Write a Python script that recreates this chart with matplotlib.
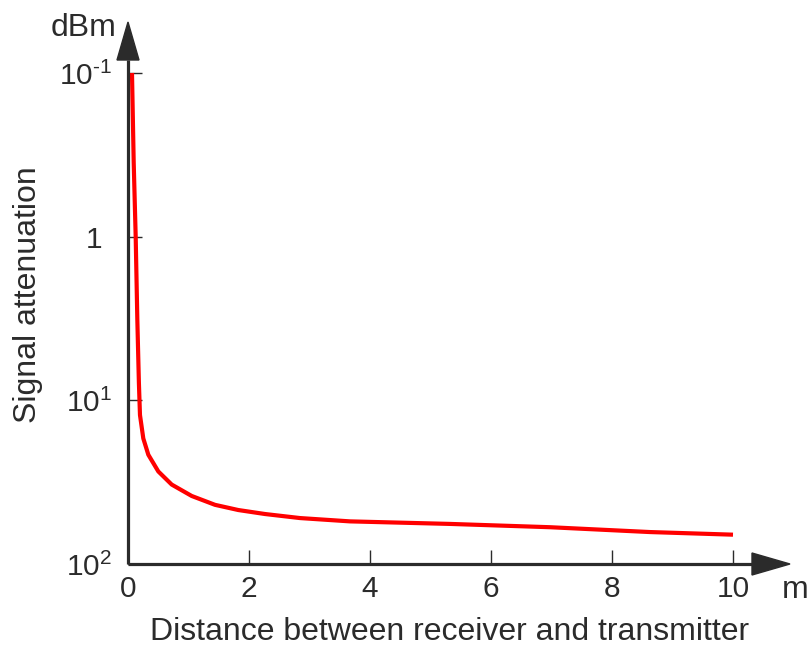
import matplotlib
matplotlib.use("Agg")
import matplotlib.pyplot as plt
from matplotlib.patches import Polygon
from matplotlib.transforms import ScaledTranslation

plt.rcParams['font.family'] = ['Liberation Sans', 'DejaVu Sans']
plt.rcParams['mathtext.fontset'] = 'custom'
plt.rcParams['mathtext.rm'] = 'Liberation Sans'
plt.rcParams['mathtext.it'] = 'Liberation Sans:italic'

# data
distance = [0.066, 0.094, 0.127, 0.154, 0.18, 0.198, 0.253, 0.336, 0.501, 0.722, 1.053,
            1.438, 1.823, 2.264, 2.843, 3.669, 5.322, 6.975, 8.628, 10.0]
attenuation = [0.1, 0.35, 1.0, 3.2, 7.8, 12.3, 17.1, 21.5, 27.2, 32.7, 38.4,
               43.5, 46.8, 49.5, 52.4, 54.9, 56.9, 59.6, 63.8, 66.2]
xticks = [0, 2, 4, 6, 8, 10]
xtick_labels = ['0', '2', '4', '6', '8', '10']
yticks = [0.1, 1, 10, 100]
ytick_labels = [r'$\mathregular{10^{\text{-}1}}$', '1', r'$\mathregular{10^{1}}$', r'$\mathregular{10^{2}}$']

W, H = 811, 648
fig = plt.figure(figsize=(W / 100, H / 100), dpi=100)
L, R, T, B = 128, 790, 22, 564
ax = fig.add_axes([L / W, 1 - B / H, (R - L) / W, (B - T) / H])

dark = '#2b2b2b'
ax.plot(distance, attenuation, color='#ff0000', lw=3.0, solid_capstyle='butt',
        solid_joinstyle='round', zorder=3)

ax.set_yscale('log')
ax.set_xlim(0, (R - L) / 60.5)
ax.set_ylim(100, 10 ** (-1 - (73 - 22) / 163.7))
ax.set_xticks(xticks)
ax.set_xticklabels(xtick_labels)
ax.set_yticks(yticks)
ax.set_yticklabels(ytick_labels)
ax.minorticks_off()
ax.tick_params(axis='both', direction='in', length=10, width=1.0, color=dark,
               labelsize=21.5, labelcolor=dark)
ax.tick_params(axis='x', pad=8)
ax.tick_params(axis='y', pad=11.5)
for s in ax.spines.values():
    s.set_visible(False)

# the plain "1" label sits further left than the superscripted ones
for lab in ax.get_yticklabels():
    if lab.get_text() == '1':
        lab.set_transform(lab.get_transform() + ScaledTranslation(-10 / 100, 0, fig.dpi_scale_trans))

aw, ah = R - L, B - T
head_len, head_half = 38, 11
# axis lines
ax.plot([0, 1 - head_len / aw], [0, 0], transform=ax.transAxes, color=dark, lw=2.3,
        clip_on=False, solid_capstyle='butt', zorder=4)
ax.plot([0, 0], [0, 1 - head_len / ah], transform=ax.transAxes, color=dark, lw=2.3,
        clip_on=False, solid_capstyle='butt', zorder=4)
# arrow heads
ax.add_patch(Polygon([(1, 0), (1 - head_len / aw, head_half / ah), (1 - head_len / aw, -head_half / ah)],
                     closed=True, transform=ax.transAxes, color=dark, clip_on=False, zorder=5))
ax.add_patch(Polygon([(0, 1), (head_half / aw, 1 - head_len / ah), (-head_half / aw, 1 - head_len / ah)],
                     closed=True, transform=ax.transAxes, color=dark, clip_on=False, zorder=5))

fig.text(809 / W, 1 - 590 / H, 'm', fontsize=23, color=dark, ha='right', va='center')
fig.text(84 / W, 1 - 28 / H, 'dBm', fontsize=23, color=dark, ha='center', va='center')
fig.text(450 / W, 1 - 632 / H, 'Distance between receiver and transmitter', fontsize=23,
         color=dark, ha='center', va='center')
fig.text(28 / W, 1 - 295 / H, 'Signal attenuation', fontsize=23, color=dark,
         ha='center', va='center', rotation=90)

fig.savefig('out.png', dpi=100)
